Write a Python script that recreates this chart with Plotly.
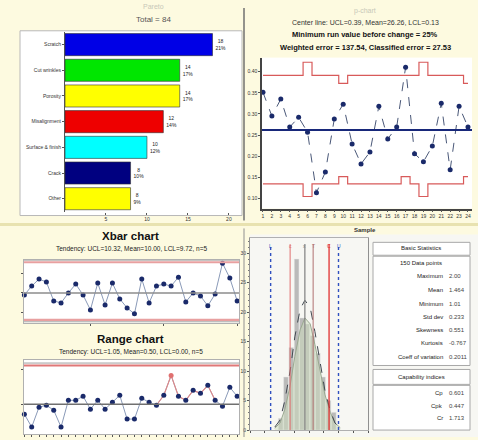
import plotly.graph_objects as go

W, H = 478, 440


def fx(p):
    return p / W


def fy(p):
    return 1 - p / H


FONT = "Liberation Sans, Arial, sans-serif"

# ---------------- data ----------------
pareto_cats = ["Scratch", "Cut wrinkles", "Porosity", "Misalignment",
               "Surface & finish", "Crack", "Other"]
pareto_counts = [18, 14, 14, 12, 10, 8, 8]
pareto_pct = ["21%", "17%", "17%", "14%", "12%", "10%", "9%"]
pareto_colors = ["#0000e6", "#00e600", "#ffff00", "#ee0000",
                 "#00ffff", "#000080", "#ffff00"]

p_samples = list(range(1, 25))
p_values = [0.351, 0.295, 0.335, 0.269, 0.292, 0.257, 0.114, 0.163,
            0.288, 0.323, 0.229, 0.182, 0.210, 0.318, 0.241, 0.269,
            0.410, 0.206, 0.187, 0.224, 0.325, 0.168, 0.318, 0.269]
p_ucl = [0.391, 0.391, 0.391, 0.391, 0.391, 0.422, 0.391, 0.391,
         0.391, 0.372, 0.391, 0.391, 0.391, 0.391, 0.391, 0.391,
         0.391, 0.391, 0.422, 0.391, 0.391, 0.391, 0.391, 0.372]
p_lcl = [0.135, 0.135, 0.135, 0.135, 0.135, 0.105, 0.135, 0.135,
         0.135, 0.152, 0.135, 0.135, 0.135, 0.135, 0.135, 0.135,
         0.152, 0.135, 0.105, 0.135, 0.135, 0.135, 0.135, 0.152]
p_center = 0.262
p_ticks = [0.10, 0.15, 0.20, 0.25, 0.30, 0.35, 0.40]

xbar_samples = list(range(1, 31))
xbar_values = [9.979, 10.072, 10.145, 10.114, 9.917, 9.897, 10.000, 10.093,
               9.979, 9.824, 10.103, 9.876, 10.103, 9.938, 9.845, 9.783,
               10.145, 9.897, 10.072, 10.093, 10.072, 10.165, 9.907, 10.000,
               9.969, 9.866, 9.990, 10.310, 10.155, 9.917]
xbar_ucl, xbar_center, xbar_lcl = 10.32, 10.0, 9.72

range_values = [0.359, 0.176, 0.458, 0.486, 0.415, 0.176, 0.556, 0.556,
                0.613, 0.430, 0.556, 0.430, 0.528, 0.627, 0.289, 0.289,
                0.585, 0.528, 0.486, 0.627, 0.909, 0.613, 0.556, 0.697,
                0.655, 0.768, 0.556, 0.472, 0.740, 0.613]
range_ucl, range_center = 1.05, 0.5
range_run_start, range_run_end = 19, 27   # samples drawn as a pink run

hist_centers = [1.02, 1.11, 1.20, 1.29, 1.38, 1.47, 1.56, 1.65, 1.74, 1.83, 1.92]
hist_counts = [2, 9, 14, 29, 19, 18, 16, 13, 9, 5, 3]
fit_x = [0.92, 1.01, 1.09, 1.18, 1.26, 1.35, 1.43, 1.52, 1.60, 1.69, 1.77, 1.86, 1.94, 2.03]
fit_normal = [0.5, 1.7, 5.0, 10.0, 15.8, 20.5, 22.0, 20.8, 16.7, 11.7, 6.7, 3.3, 1.2, 0.3]
fit_smooth = [0.3, 1.2, 3.5, 7.5, 12.5, 17.0, 19.0, 18.0, 14.5, 10.0, 6.0, 3.0, 1.2, 0.4]
vlines = [(0.85, "#3050c0", "dot", 1.4, "L"), (1.18, "#e07070", "solid", 1.0, "c"),
          (1.43, "#808080", "solid", 1.2, "x"), (1.57, "#b07070", "solid", 1.0, "T"),
          (1.84, "#e03030", "solid", 1.3, "C"), (2.00, "#3050c0", "dot", 1.4, "U")]

stat_rows = [("Maximum", "2.00"), ("Mean", "1.464"), ("Minimum", "1.01"),
             ("Std dev", "0.233"), ("Skewness", "0.551"), ("Kurtosis", "-0.767"),
             ("Coeff of variation", "0.2011")]
cap_rows = [("Cp", "0.601"), ("Cpk", "0.447"), ("Cr", "1.713")]
n_points_label = "150 Data points"

# ---------------- figure ----------------
fig = go.Figure()

# Pareto
fig.add_trace(go.Bar(
    y=pareto_cats, x=pareto_counts, orientation="h",
    marker=dict(color=pareto_colors, line=dict(color="#303030", width=0.6)),
    width=0.86,
    text=[f"{c}<br>{p}" for c, p in zip(pareto_counts, pareto_pct)],
    textposition="outside", textfont=dict(size=5, color="#222"),
    cliponaxis=False, xaxis="x", yaxis="y", showlegend=False))

# p-chart
fig.add_trace(go.Scatter(x=p_samples, y=p_ucl, mode="lines", line_shape="hvh",
                         line=dict(color="#d85a5a", width=1.2),
                         xaxis="x2", yaxis="y2", showlegend=False))
fig.add_trace(go.Scatter(x=p_samples, y=p_lcl, mode="lines", line_shape="hvh",
                         line=dict(color="#d85a5a", width=1.2),
                         xaxis="x2", yaxis="y2", showlegend=False))
fig.add_trace(go.Scatter(x=p_samples, y=p_values, mode="lines+markers",
                         line=dict(color="#4a5878", width=1, dash="dash"),
                         marker=dict(color="#1a2a6a", size=5),
                         xaxis="x2", yaxis="y2", showlegend=False, cliponaxis=False))

# Xbar
fig.add_trace(go.Scatter(x=xbar_samples, y=xbar_values, mode="lines+markers",
                         line=dict(color="#8a9ab8", width=1),
                         marker=dict(color="#1a2a6a", size=5),
                         xaxis="x3", yaxis="y3", showlegend=False, cliponaxis=False))

# Range
fig.add_trace(go.Scatter(x=xbar_samples, y=range_values, mode="lines",
                         line=dict(color="#8a9ab8", width=1),
                         xaxis="x4", yaxis="y4", showlegend=False))
run_x = xbar_samples[range_run_start - 1:range_run_end]
run_y = range_values[range_run_start - 1:range_run_end]
fig.add_trace(go.Scatter(x=run_x, y=run_y, mode="lines",
                         line=dict(color="#e08888", width=1.1),
                         xaxis="x4", yaxis="y4", showlegend=False))
fig.add_trace(go.Scatter(x=xbar_samples, y=range_values, mode="markers",
                         marker=dict(color=["#e07070" if v == max(range_values) else "#1a2a6a"
                                            for v in range_values], size=5),
                         xaxis="x4", yaxis="y4", showlegend=False, cliponaxis=False))

# Histogram
fig.add_trace(go.Scatter(x=fit_x, y=fit_smooth, mode="lines", fill="tozeroy",
                         fillcolor="rgba(205,222,190,0.5)",
                         line=dict(color="#9aa890", width=1),
                         xaxis="x5", yaxis="y5", showlegend=False))
fig.add_trace(go.Bar(x=hist_centers, y=hist_counts, width=0.08,
                     marker=dict(color="rgba(165,165,165,0.75)",
                                 line=dict(color="#e8e8e8", width=0.5)),
                     xaxis="x5", yaxis="y5", showlegend=False))
fig.add_trace(go.Scatter(x=fit_x, y=fit_normal, mode="lines",
                         line=dict(color="#404850", width=1, dash="dash"),
                         xaxis="x5", yaxis="y5", showlegend=False))

shapes = []
annotations = []

# panel backgrounds
shapes.append(dict(type="rect", xref="paper", yref="paper", layer="below",
                   x0=fx(20), x1=fx(242), y0=fy(217), y1=fy(31),
                   fillcolor="white", line=dict(color="#b8b8b8", width=1)))
shapes.append(dict(type="rect", xref="paper", yref="paper", layer="below",
                   x0=fx(250), x1=fx(478), y0=fy(440), y1=fy(236),
                   fillcolor="#f7f7f3", line=dict(width=0)))
shapes.append(dict(type="line", xref="paper", yref="paper",
                   x0=fx(244), x1=fx(244), y0=fy(222), y1=fy(8),
                   line=dict(color="#707070", width=1.5)))
shapes.append(dict(type="line", xref="paper", yref="paper",
                   x0=fx(244), x1=fx(244), y0=fy(440), y1=fy(230),
                   line=dict(color="#909090", width=1)))
shapes.append(dict(type="line", xref="paper", yref="paper",
                   x0=fx(0), x1=fx(478), y0=fy(226), y1=fy(226),
                   line=dict(color="#e8e2b0", width=3)))

# p-chart center
shapes.append(dict(type="line", xref="x2 domain", yref="y2", x0=0, x1=1,
                   y0=p_center, y1=p_center, line=dict(color="#18287a", width=1.8)))
# Xbar limits
for yv, col, w in [(xbar_ucl, "#e8a0a0", 2.2), (xbar_lcl, "#e8a0a0", 2.2)]:
    shapes.append(dict(type="line", xref="x3 domain", yref="y3", x0=0, x1=1,
                       y0=yv, y1=yv, line=dict(color=col, width=w)))
for yv in [xbar_ucl + 0.02, xbar_lcl - 0.02]:
    shapes.append(dict(type="line", xref="x3 domain", yref="y3", x0=0, x1=1,
                       y0=yv, y1=yv, line=dict(color="#a0a0a0", width=1)))
shapes.append(dict(type="line", xref="x3 domain", yref="y3", x0=0, x1=1,
                   y0=xbar_center, y1=xbar_center, line=dict(color="#8c8c8c", width=1.6)))
# Range limits
shapes.append(dict(type="line", xref="x4 domain", yref="y4", x0=0, x1=1,
                   y0=range_ucl, y1=range_ucl, line=dict(color="#e07878", width=2.2)))
shapes.append(dict(type="line", xref="x4 domain", yref="y4", x0=0, x1=1,
                   y0=range_ucl + 0.035, y1=range_ucl + 0.035,
                   line=dict(color="#a0a0a0", width=1)))
shapes.append(dict(type="line", xref="x4 domain", yref="y4", x0=0, x1=1,
                   y0=range_center, y1=range_center, line=dict(color="#707070", width=1.6)))
# histogram vertical lines
for xv, col, dash, w, lab in vlines:
    shapes.append(dict(type="line", xref="x5", yref="y5 domain", x0=xv, x1=xv,
                       y0=0, y1=0.97, line=dict(color=col, width=w, dash=dash)))
    annotations.append(dict(x=xv, y=0.985, xref="x5", yref="y5 domain", text=lab,
                            showarrow=False, font=dict(size=5, color=col, family=FONT)))

# stats table
TX0, TX1 = 373, 470
boxes = [(244, 257), (258, 368), (372, 387), (388, 433)]
for y0, y1 in boxes:
    shapes.append(dict(type="rect", xref="paper", yref="paper",
                       x0=fx(TX0), x1=fx(TX1), y0=fy(y1), y1=fy(y0),
                       fillcolor="white", line=dict(color="#a8a8a8", width=1), layer="below"))


def txt(x, y, s, size=7, color="#222", xanchor="center", bold=False):
    annotations.append(dict(x=fx(x), y=fy(y), xref="paper", yref="paper",
                            text=f"<b>{s}</b>" if bold else s, showarrow=False,
                            xanchor=xanchor, yanchor="middle",
                            font=dict(size=size, color=color, family=FONT)))


txt(421, 250, "Basic Statistics", 6)
txt(421, 265, n_points_label, 6)
row_y = [278, 292, 306, 319, 332, 345, 359]
for (lab, val), yy in zip(stat_rows, row_y):
    txt(445, yy, lab, 6, xanchor="right")
    txt(447, yy, val, 6, color="#444", xanchor="left")
txt(421, 380, "Capability indices", 6)
for (lab, val), yy in zip(cap_rows, [396, 409, 421]):
    txt(445, yy, lab, 6, xanchor="right")
    txt(447, yy, val, 6, color="#444", xanchor="left")

# titles
txt(153, 7, "Pareto", 7, color="#c8c8b8")
txt(153, 20, "Total = 84", 8, color="#555")
txt(365, 11, "p-chart", 7, color="#c8c8b8")
txt(365, 23, "Center line: UCL=0.39, Mean=26.26, LCL=0.13", 7, color="#333")
txt(365, 35, "Minimum run value before change = 25%", 7.5, color="#111", bold=True)
txt(365, 48, "Weighted error = 137.54, Classified error = 27.53", 7.5, color="#111", bold=True)
txt(365, 232, "Sample", 6, color="#333", bold=True)
txt(130, 238, "Xbar chart", 11.5, color="#111", bold=True)
txt(131, 251, "Tendency: UCL=10.32, Mean=10.00, LCL=9.72, n=5", 6.5, color="#222")
txt(130, 341, "Range chart", 11.5, color="#111", bold=True)
txt(131, 354, "Tendency: UCL=1.05, Mean=0.50, LCL=0.00, n=5", 6.5, color="#222")

tickfont = dict(size=5, color="#333", family=FONT)
axis_common = dict(showgrid=False, zeroline=False, tickfont=tickfont,
                   ticks="outside", ticklen=2, tickcolor="#555")

fig.update_layout(
    width=W, height=H, margin=dict(l=0, r=0, t=0, b=0),
    paper_bgcolor="#fdfae0", plot_bgcolor="white",
    font=dict(family=FONT), bargap=0.1,
    shapes=shapes, annotations=annotations,
    xaxis=dict(domain=[fx(65), fx(242)], range=[0, 21.6], anchor="y",
               tickvals=[5, 10, 15, 20], showline=False, **axis_common),
    yaxis=dict(domain=[fy(213), fy(32)], autorange="reversed", anchor="x",
               showline=True, linecolor="#555", linewidth=1, **axis_common),
    xaxis2=dict(domain=[fx(262), fx(472)], range=[0.89, 24.45], anchor="y2",
                tickvals=p_samples, showline=True, linecolor="#444", linewidth=1.5,
                **axis_common),
    yaxis2=dict(domain=[fy(210), fy(58)], range=[0.0765, 0.433], anchor="x2",
                tickvals=p_ticks, tickformat=".2f", showline=True, linecolor="#444",
                linewidth=1.5, **axis_common),
    xaxis3=dict(domain=[fx(24), fx(239)], range=[0.95, 30.25], anchor="y3",
                showticklabels=False, showline=True, mirror=True, linecolor="#b0b0b0",
                **axis_common),
    yaxis3=dict(domain=[fy(325), fy(262)], range=[9.69, 10.341], anchor="x3",
                showticklabels=False, showline=True, mirror=True, linecolor="#b0b0b0",
                **axis_common),
    xaxis4=dict(domain=[fx(24), fx(239)], range=[0.95, 30.25], anchor="y4",
                showticklabels=False, showline=True, mirror=True, linecolor="#b0b0b0",
                tickvals=xbar_samples, **axis_common),
    yaxis4=dict(domain=[fy(437), fy(362)], range=[0.077, 1.135], anchor="x4",
                showticklabels=False, showline=True, mirror=True, linecolor="#b0b0b0",
                **axis_common),
    xaxis5=dict(domain=[fx(250), fx(368)], range=[0.5, 2.5], anchor="y5",
                dtick=0.25, showticklabels=False, showline=True, mirror=True,
                linecolor="#b0b0b0", **axis_common),
    yaxis5=dict(domain=[fy(433), fy(240)], range=[0, 32.5], anchor="x5",
                dtick=5, showline=True, mirror=True, linecolor="#909090",
                minor=dict(dtick=1, ticks="outside", ticklen=1, tickcolor="#777"),
                **axis_common),
)

fig.write_html("out.html",
               config={"displayModeBar": False},
               post_script="document.body.style.margin='0';"
                           "document.body.style.overflow='hidden';")
